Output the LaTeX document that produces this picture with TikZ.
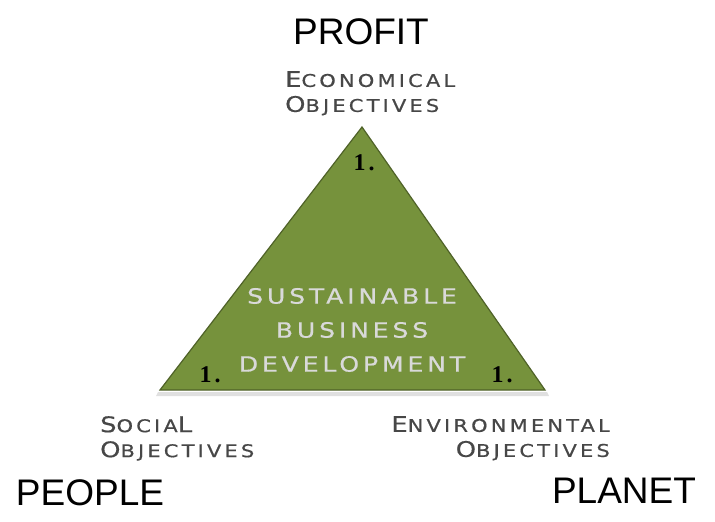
\documentclass[tikz,border=0pt]{standalone}
\usepackage{fontspec}
\setmainfont{Liberation Sans}
\newfontfamily\cpfont[LetterSpace=18,FakeStretch=1.2,FakeBold=0.6]{DejaVu Sans}
\newfontfamily\numfont{Liberation Serif}
\newcommand{\scw}[2]{{\fontsize{21.5}{25}\selectfont #1}{\fontsize{17.5}{25}\selectfont #2}}
\begin{document}
\begin{tikzpicture}[x=1pt,y=-1pt,
  big/.style={font=\fontsize{37}{37}\selectfont, text=black, inner sep=0pt},
  obj/.style={font=\cpfont\fontsize{17.5}{25}\selectfont, text=black!72, inner sep=0pt, align=left},
  mid/.style={font=\cpfont\fontsize{21}{34}\selectfont, text=black!15, inner sep=0pt, align=center},
  num/.style={font=\numfont\bfseries\fontsize{24}{24}\selectfont, text=black, inner sep=0pt}]
\useasboundingbox (0,0) rectangle (715,522);
% shadow
\fill[black!12] (158,392) -- (547,392) -- (549,396) -- (156,396) -- cycle;
\coordinate (A) at (362,127);
\coordinate (B) at (160,390);
\coordinate (C) at (545,390);
\filldraw[fill={rgb,255:red,118;green,146;blue,60}, draw={rgb,255:red,79;green,98;blue,40}, line width=1.2pt] (A) -- (B) -- (C) -- cycle;
\node[big] (profit) at (361,32) {PROFIT};
\node[big] (people) at (90,493) {PEOPLE};
\node[big] (planet) at (624,491) {PLANET};
\node[obj, anchor=north west] (eco) at (285,71) {\scw{E}{CONOMICAL}\\\scw{O}{BJECTIVES}};
\node[obj, anchor=north west] (soc) at (100,416) {\scw{S}{OCIA}\scw{L}{}\\\scw{O}{BJECTIVES}};
\node[obj, anchor=north east, align=right] (env) at (610,416) {\scw{E}{NVIRONMENTAL}\\\scw{O}{BJECTIVES}};
\node[mid] (sbd) at (352,330) {SUSTAINABLE\\BUSINESS\\DEVELOPMENT};
\node[num] (n1) at (364,163) {1\kern3pt.};
\node[num] (n2) at (210,375) {1\kern3pt.};
\node[num] (n3) at (502,375) {1\kern3pt.};
\end{tikzpicture}
\end{document}
